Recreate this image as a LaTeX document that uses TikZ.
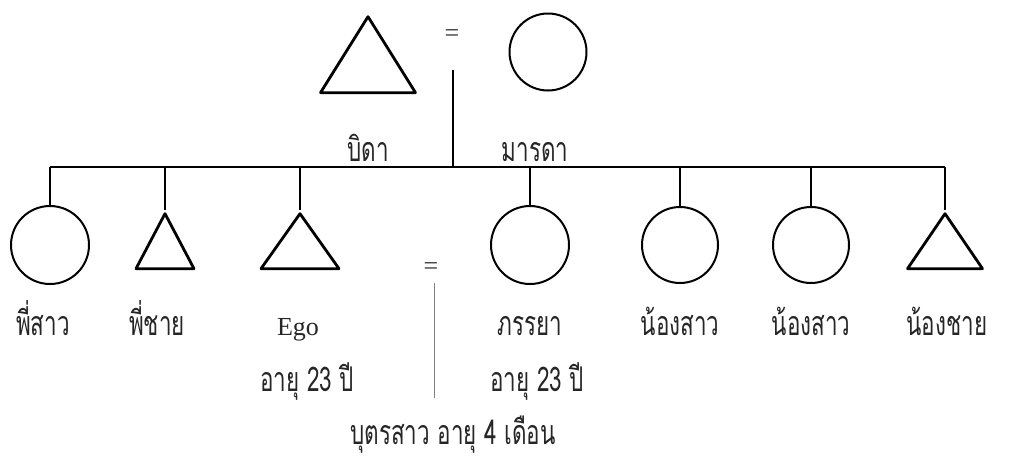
\documentclass[tikz,border=0pt]{standalone}
\usepackage{fontspec}
\setmainfont{Liberation Serif}
\newfontfamily\thai[Script=Thai,FakeStretch=0.66]{Loma}
\usetikzlibrary{shapes.geometric}

\begin{document}
\begin{tikzpicture}[x=1pt, y=-1pt,
    female/.style={circle, draw, line width=2pt, minimum size=78pt, inner sep=0pt},
    male/.style={isosceles triangle, isosceles triangle stretches, shape border rotate=90,
                 draw, line width=2.8pt, line join=round, inner sep=0pt, anchor=apex},
    kin/.style={font=\thai\fontsize{34}{36}\selectfont, anchor=base, inner sep=0pt, text=black!85},
    marr/.style={font=\fontsize{26}{26}\selectfont, inner sep=0pt, text=black!80},
    link/.style={line width=1.6pt}]
  \useasboundingbox (0,0) rectangle (1011,459);

  % parents
  \node[male, minimum width=95pt, minimum height=76pt] (father) at (368,13) {};
  \node[female, minimum size=77pt] (mother) at (548,52) {};
  \node[marr] (eqtop) at (452,36) {=};
  \node[kin] (lblfather) at (368,161) {บิดา};
  \node[kin] (lblmother) at (535,161) {มารดา};

  % sibling line
  \coordinate (desc) at (453,70);
  \coordinate (barL) at (50,167);
  \coordinate (barR) at (945,167);
  \draw[link] (desc) -- (desc |- barL);
  \draw[link, line width=2pt] (barL) -- (barR);

  % children
  \node[female] (sis) at (50,245) {};
  \node[male, minimum width=58pt, minimum height=55pt] (bro) at (165,210) {};
  \node[male, minimum width=78pt, minimum height=55pt] (ego) at (300,210) {};
  \node[female] (wife) at (530,245) {};
  \node[female, minimum size=76pt] (ysisA) at (680,245) {};
  \node[female, minimum size=76pt] (ysisB) at (811,245) {};
  \node[male, minimum width=75pt, minimum height=55pt] (ybro) at (945,210) {};

  \foreach \c in {sis,bro,ego,wife,ysisA,ysisB,ybro}
    \draw[link] (\c.north) -- (\c.north |- barL);

  % marriage of ego
  \node[marr] (eqego) at (431,269) {=};
  \coordinate (childtop) at (434,283);
  \coordinate (childbot) at (434,398);
  \draw[line width=0.8pt, black!50] (childtop) -- (childbot);

  % labels
  \node[kin] (lblsis) at (43,335) {พี่สาว};
  \node[kin] (lblbro) at (157,335) {พี่ชาย};
  \node[anchor=base, inner sep=0pt, text=black!85, font=\fontsize{26}{28}\selectfont] (lblego) at (298,335) {Ego};
  \node[kin] (lblwife) at (530,335) {ภรรยา};
  \node[kin] (lblysisA) at (680,335) {น้องสาว};
  \node[kin] (lblysisB) at (811,335) {น้องสาว};
  \node[kin] (lblybro) at (947,335) {น้องชาย};
  \node[kin] (ageego) at (307,391) {อายุ 23 ปี};
  \node[kin] (agewife) at (537,391) {อายุ 23 ปี};
  \node[kin] (daughter) at (453,444) {บุตรสาว อายุ 4 เดือน};
\end{tikzpicture}
\end{document}
